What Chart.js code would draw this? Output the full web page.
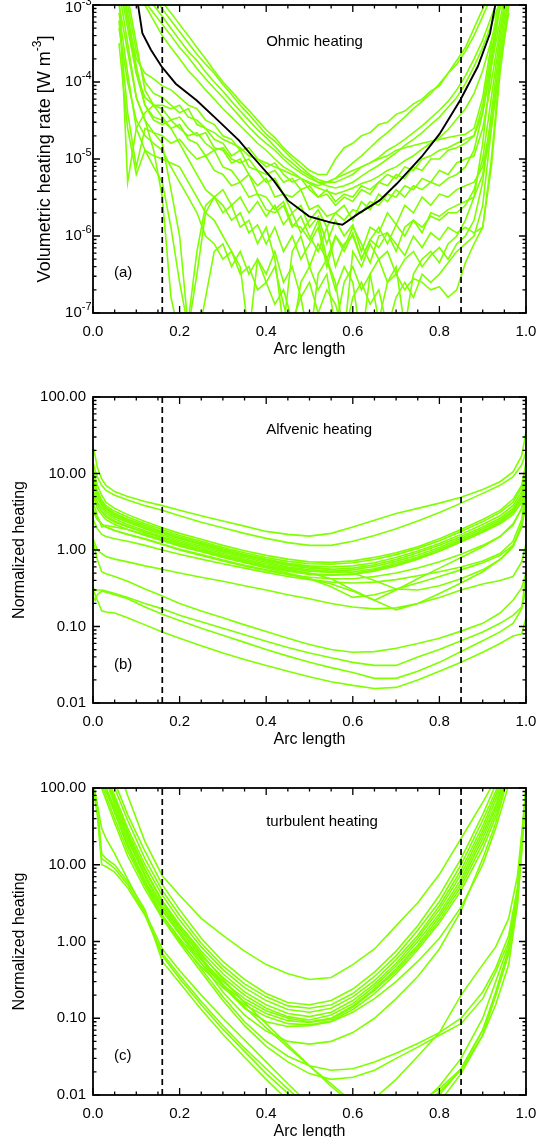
<!DOCTYPE html>
<html>
<head>
<meta charset="utf-8">
<script src="https://cdn.jsdelivr.net/npm/chart.js@4.4.1/dist/chart.umd.min.js"></script>
<style>
  html, body { margin: 0; padding: 0; background: #fff; overflow: hidden; }
  #wrap { position: relative; width: 551px; height: 1137px; }
  .pan { position: absolute; left: 0; width: 551px; }
</style>
</head>
<body>
<div id="wrap">
  <div class="pan" style="top:0"><canvas id="ohmic" width="551" height="365"></canvas></div>
  <div class="pan" style="top:365px"><canvas id="alfven" width="551" height="390"></canvas></div>
  <div class="pan" style="top:755px"><canvas id="turb" width="551" height="392"></canvas></div>
</div>
<script>
// ---- data ----
const cutLines = [0.16, 0.85];           // dashed vertical markers
const arcTicks = [0, 0.2, 0.4, 0.6, 0.8, 1.0];
const ohmicTicks = [1e-7, 1e-6, 1e-5, 1e-4, 1e-3];
const ohmicTickExp = ['-7', '-6', '-5', '-4', '-3'];
const normTicks = [0.01, 0.1, 1, 10, 100];
const normTickLabels = ['0.01', '0.10', '1.00', '10.00', '100.00'];

// (a) Ohmic heating, W m^-3
const arcA = [0.06,0.08,0.10,0.12,0.14,0.16,0.18,0.20,0.22,0.24,0.26,0.28,0.30,0.32,0.34,0.36,0.38,0.40,0.42,0.44,0.46,0.48,0.50,0.52,0.54,0.56,0.58,0.60,0.62,0.64,0.66,0.68,0.70,0.72,0.74,0.76,0.78,0.80,0.82,0.84,0.86,0.88,0.90,0.92,0.94,0.96];
const ohmicRuns = [
  [5e-3,4e-3,3.2e-3,2.2e-3,1.6e-3,1.1e-3,7.9e-4,5.6e-4,4e-4,2.8e-4,2e-4,1.4e-4,1e-4,7.6e-5,5.6e-5,4.3e-5,3.2e-5,2.4e-5,1.9e-5,1.4e-5,1.1e-5,8.9e-6,7.1e-6,6.3e-6,6.3e-6,1e-5,1.4e-5,1.6e-5,2e-5,2.2e-5,2.8e-5,3e-5,3.8e-5,4.2e-5,5.2e-5,6e-5,7.6e-5,8.9e-5,1.3e-4,1.7e-4,2.5e-4,4e-4,7.1e-4,1.3e-3,2e-3,3.2e-3],
  [4e-3,3.2e-3,2.5e-3,1.8e-3,1.3e-3,8.9e-4,6.3e-4,4.5e-4,3.2e-4,2.3e-4,1.7e-4,1.3e-4,9.3e-5,6.9e-5,5e-5,3.8e-5,2.8e-5,2.1e-5,1.7e-5,1.3e-5,1e-5,7.9e-6,6.3e-6,5.4e-6,5e-6,5e-6,5.6e-6,6.3e-6,7.9e-6,8.9e-6,1.05e-5,1.3e-5,1.5e-5,1.8e-5,2.2e-5,2.7e-5,3.4e-5,4.3e-5,5.6e-5,7.9e-5,1.2e-4,2e-4,3.5e-4,7.1e-4,1.4e-3,2.8e-3],
  [3.2e-3,2.5e-3,2e-3,1.4e-3,1e-3,7.1e-4,5e-4,3.5e-4,2.5e-4,1.9e-4,1.35e-4,1e-4,7.6e-5,5.6e-5,4.2e-5,3.2e-5,2.4e-5,1.9e-5,1.45e-5,1.1e-5,8.9e-6,7.1e-6,6e-6,5e-6,4.5e-6,4.2e-6,4.5e-6,5e-6,6e-6,7.1e-6,8.3e-6,1e-5,1.2e-5,1.5e-5,1.8e-5,2.2e-5,2.8e-5,3.5e-5,4.7e-5,6.3e-5,9.5e-5,1.6e-4,2.8e-4,5.6e-4,1.1e-3,2.2e-3],
  [2.5e-3,2e-3,1.6e-3,1.1e-3,7.9e-4,5.6e-4,4e-4,2.8e-4,2.1e-4,1.5e-4,1.1e-4,8.3e-5,6.3e-5,4.7e-5,3.5e-5,2.6e-5,2e-5,1.6e-5,1.3e-5,1e-5,7.9e-6,6.6e-6,5.6e-6,5e-6,5e-6,5.6e-6,7.1e-6,8.9e-6,1.1e-5,1.4e-5,1.8e-5,2.2e-5,2.8e-5,3.5e-5,4.5e-5,5.6e-5,7.1e-5,9.5e-5,1.3e-4,1.9e-4,2.8e-4,5e-4,8.9e-4,1.6e-3,2.5e-3,4e-3],
  [2e-3,1.6e-3,1.3e-3,1e-3,6.3e-4,4e-4,2.8e-4,2e-4,1.4e-4,1.07e-4,7.9e-5,6e-5,4.5e-5,3.5e-5,2.7e-5,2.1e-5,1.6e-5,1.3e-5,1e-5,7.9e-6,6.8e-6,5.6e-6,4.8e-6,4.2e-6,3.8e-6,3.5e-6,3.8e-6,4.2e-6,4.8e-6,5.2e-6,6e-6,7.1e-6,7.9e-6,9.5e-6,1.1e-5,1.35e-5,1.6e-5,1.9e-5,2.4e-5,3.3e-5,4.5e-5,7.1e-5,1.4e-4,3.5e-4,8.9e-4,2e-3],
  [2.5e-3,6.3e-4,2e-4,1.3e-4,1.1e-4,8.9e-5,7.9e-5,6.3e-5,5e-5,4.5e-5,3.2e-5,2.8e-5,2e-5,1.8e-5,1.3e-5,1.4e-5,1e-5,7.9e-6,8.9e-6,6.3e-6,5e-6,5.6e-6,4e-6,3.2e-6,3.5e-6,2.5e-6,3.2e-6,2.8e-6,4e-6,3.5e-6,5e-6,4.5e-6,6.3e-6,5.6e-6,7.9e-6,7.1e-6,1e-5,1e-5,1.3e-5,1.4e-5,1.6e-5,2e-5,5e-5,2.5e-4,1e-3,3.2e-3],
  [3.2e-3,1e-3,2.5e-4,1e-4,7.1e-5,6.3e-5,5e-5,4e-5,4.5e-5,2.8e-5,2.5e-5,1.8e-5,1.6e-5,1.1e-5,1.3e-5,7.9e-6,7.1e-6,5e-6,5.6e-6,3.5e-6,3.2e-6,4e-6,2.2e-6,2.5e-6,1.8e-6,2e-6,1.6e-6,2.2e-6,2e-6,2.8e-6,2.5e-6,3.5e-6,3.2e-6,4.5e-6,4e-6,5.6e-6,5e-6,7.1e-6,6.3e-6,8.9e-6,1e-5,1.1e-5,2.5e-5,1e-4,5e-4,2e-3],
  [4e-3,1.3e-3,3.2e-4,7.9e-5,5e-5,4.5e-5,3.2e-5,3.5e-5,2.5e-5,2e-5,2.2e-5,1.4e-5,1.3e-5,8.9e-6,1e-5,6.3e-6,4.5e-6,5.6e-6,3.2e-6,3.5e-6,2e-6,2.5e-6,1.3e-6,1.8e-6,7.9e-7,1.6e-6,1e-6,1.4e-6,6.3e-7,1.3e-6,1.1e-6,2e-6,1.4e-6,2.5e-6,2e-6,3.2e-6,2.5e-6,3.5e-6,3.2e-6,4e-6,4.5e-6,5e-6,7.9e-6,3.2e-5,2e-4,1e-3],
  [2.5e-3,7.9e-4,1.6e-4,5e-5,3.5e-5,3.2e-5,2.5e-5,2.8e-5,1.8e-5,1.6e-5,1.1e-5,1.3e-5,7.9e-6,7.1e-6,5e-6,6.3e-6,3.5e-6,3.2e-6,2.2e-6,2.8e-6,1.4e-6,1.3e-6,8.9e-7,1.6e-6,5e-7,1e-6,7.1e-7,1.3e-6,7.9e-7,4.5e-7,1e-6,1.1e-6,6.3e-7,1.3e-6,1.6e-6,1.1e-6,2e-6,1.8e-6,2.2e-6,2.5e-6,2.8e-6,3.2e-6,6.3e-6,2.5e-5,1.6e-4,7.9e-4],
  [6.3e-4,4e-5,7.9e-6,2.5e-5,2.2e-5,2e-5,1.6e-5,1.8e-5,1.3e-5,1e-5,1.1e-5,7.1e-6,6.3e-6,4.5e-6,5e-6,3.2e-6,3.5e-6,2.2e-6,2e-6,2.5e-6,1.3e-6,1.8e-6,1e-6,6.3e-7,1.3e-6,4e-7,7.9e-7,1e-6,5e-7,8.9e-7,7.1e-7,1.1e-6,7.9e-7,5.6e-7,1e-6,7.1e-7,1.1e-6,8.9e-7,1.3e-6,1.1e-6,1.3e-6,1.1e-6,1.3e-6,7.9e-6,1.3e-4,1e-3],
  [1.6e-3,3.2e-4,6.3e-5,3.2e-5,1.3e-5,3.2e-6,1.6e-7,5e-8,7.9e-8,6.3e-7,2.5e-6,3.2e-6,4e-6,2.5e-6,3.2e-6,2e-6,2.8e-6,1.8e-6,2.5e-6,1.4e-6,2e-6,1.1e-6,1.6e-6,2.2e-6,1.3e-6,2e-6,2.5e-6,1.6e-6,2.8e-6,2.2e-6,3.5e-6,2.8e-6,4e-6,3.2e-6,4.5e-6,4e-6,5e-6,4.5e-6,5.6e-6,6.3e-6,7.9e-6,1.3e-5,4e-5,2e-4,1e-3,3.2e-3],
  [1e-3,2.5e-4,6.3e-5,3.2e-5,2.2e-5,1.6e-5,4e-6,1e-6,6.3e-8,4e-8,1.6e-7,6.3e-7,7.9e-7,4e-7,6.3e-7,3.2e-7,5e-7,2.5e-7,4e-7,1.3e-7,5e-8,2.5e-7,4e-7,2e-7,3.2e-7,6.3e-8,2.5e-7,4e-7,2e-7,3.2e-7,7.9e-8,2.5e-7,3.2e-7,2e-7,2.8e-7,2.5e-7,2e-7,2.2e-7,1.6e-7,2e-7,4.5e-7,7.9e-7,1.3e-6,1e-5,1.6e-4,1e-3],
  [2e-3,5e-4,1.3e-4,6.3e-5,5e-5,3.5e-5,2.5e-5,1.6e-5,1e-5,6.3e-6,4e-6,3.2e-6,2e-6,2.5e-6,1.3e-6,1.6e-6,7.9e-7,1.3e-6,5e-7,6.3e-8,6.3e-7,1e-6,4e-7,7.9e-7,5e-7,2.5e-7,5e-8,6.3e-7,4e-7,7.9e-7,5e-7,6.3e-7,3.2e-7,5e-7,6.3e-7,4e-7,5.6e-7,7.1e-7,5e-7,7.9e-7,1e-6,1.6e-6,5e-6,4e-5,3.2e-4,1.6e-3],
  [3.2e-3,6.3e-4,1.3e-4,5e-5,3.2e-5,2.8e-5,3.2e-5,2.5e-5,2e-5,2.2e-5,1.6e-5,1.3e-5,1.4e-5,1e-5,8.9e-6,1e-5,7.1e-6,6.3e-6,7.1e-6,5e-6,5.6e-6,4e-6,4.5e-6,3.2e-6,4e-6,2.8e-6,3.5e-6,3.2e-6,4.5e-6,4e-6,5e-6,6.3e-6,5.6e-6,7.9e-6,7.1e-6,1e-5,1.1e-5,1.3e-5,1.4e-5,1.6e-5,1.8e-5,2e-5,4e-5,1.6e-4,6.3e-4,2.5e-3],
  [3.2e-4,2.5e-5,6.3e-6,1.3e-5,1.1e-5,1e-5,8.9e-6,7.9e-6,5e-6,3.2e-6,2e-6,1.6e-6,1e-6,6.3e-7,4e-7,5e-8,5e-7,3.2e-7,6.3e-7,2.5e-7,4e-7,1.6e-7,4e-8,3.2e-7,5e-7,2e-7,4e-7,2.5e-7,4e-8,3.2e-7,5e-7,2.5e-7,4e-7,6.3e-8,3.2e-7,5e-7,6.3e-7,4.5e-7,7.9e-7,1e-6,1.6e-6,3.2e-6,1.6e-5,1.6e-4,1e-3,3.2e-3],
  [7.9e-4,1.3e-4,2.5e-5,1.3e-5,7.9e-6,5e-6,1.3e-6,2.5e-7,6.3e-8,3.2e-7,2e-6,3.2e-6,2.5e-6,1.6e-6,2e-6,1.1e-6,1.4e-6,7.9e-7,1.3e-6,6.3e-7,1e-6,5e-7,7.9e-7,1.3e-6,4e-7,1e-6,6.3e-7,1.1e-6,5e-7,8.9e-7,1.3e-6,7.9e-7,1.4e-6,1e-6,1.6e-6,1.3e-6,1.8e-6,1.6e-6,2e-6,2e-6,2.5e-6,4e-6,1e-5,6.3e-5,4e-4,2e-3],
  [5e-4,1e-4,3.2e-5,2e-5,1.6e-5,1.3e-5,7.9e-6,5e-6,3.2e-6,2e-6,1e-6,7.9e-7,5e-7,6.3e-7,3.2e-7,4e-7,2e-7,2.5e-7,1.3e-7,2e-7,7.9e-8,1.6e-7,2.5e-7,1e-7,2e-7,1.3e-7,5e-8,1.6e-7,2.5e-7,1.3e-7,2e-7,6.3e-8,1.6e-7,2.5e-7,1.6e-7,3.2e-7,2.5e-7,3.2e-7,4.5e-7,6.3e-7,7.9e-7,1e-6,2.5e-6,2.5e-5,2.5e-4,1.3e-3],
  [1.6e-3,5e-6,2.5e-5,4e-5,5e-5,5e-5,4.5e-5,5e-5,3.5e-5,3.2e-5,2.5e-5,2.2e-5,1.8e-5,1.6e-5,1.4e-5,1.1e-5,1e-5,8.9e-6,7.9e-6,7.1e-6,6.3e-6,5.6e-6,5e-6,4.5e-6,5e-6,5.6e-6,6.3e-6,7.1e-6,7.9e-6,8.9e-6,1e-5,1.1e-5,1.3e-5,1.4e-5,1.5e-5,1.6e-5,1.7e-5,1.8e-5,1.9e-5,2e-5,2.1e-5,2.5e-5,6.3e-5,3.2e-4,1.3e-3,3.2e-3]
];
// mean profile (black)
const ohmicMeanArc = [0.100,0.104,0.114,0.134,0.158,0.191,0.239,0.288,0.337,0.369,0.418,0.450,0.499,0.548,0.576,0.613,0.662,0.702,0.759,0.800,0.848,0.889,0.917,0.929,0.940];
const ohmicMean = [2e-3,1e-3,4.3e-4,2.6e-4,1.6e-4,9.5e-5,5.8e-5,3.2e-5,1.75e-5,1.07e-5,5.2e-6,2.9e-6,1.8e-6,1.5e-6,1.4e-6,1.95e-6,2.9e-6,4.8e-6,1.07e-5,2.1e-5,5.8e-5,1.6e-4,4.3e-4,1e-3,2e-3];

// (b) Alfvenic heating, normalized
const arcB = [0,0.005,0.01,0.02,0.03,0.05,0.08,0.12,0.16,0.2,0.25,0.3,0.35,0.4,0.45,0.5,0.55,0.6,0.65,0.7,0.75,0.8,0.85,0.9,0.94,0.97,0.99,1.0];
const alfvenRuns = [
  [22,17,12,8.5,7,5.8,5.0,4.3,3.8,3.3,2.8,2.4,2.05,1.75,1.6,1.52,1.65,2.0,2.45,3.0,3.5,4.1,4.9,6.2,7.8,10.5,17,35],
  [14,11,9,7,6,5.2,4.5,3.8,3.3,2.8,2.3,1.95,1.65,1.42,1.25,1.15,1.15,1.3,1.55,1.9,2.4,3.1,4.1,5.5,7.0,9.0,13,19],
  [12,9,7,5.2,4.2,3.5,2.9,2.35,1.95,1.65,1.38,1.15,0.98,0.85,0.76,0.7,0.69,0.72,0.8,0.92,1.1,1.4,1.85,2.5,3.3,4.6,7,14],
  [10,8,6,4.5,3.8,3.2,2.7,2.2,1.85,1.55,1.3,1.08,0.92,0.8,0.71,0.66,0.65,0.68,0.75,0.87,1.05,1.32,1.75,2.35,3.1,4.2,6.5,12],
  [9,7,5.5,4.2,3.6,3.0,2.55,2.1,1.75,1.48,1.24,1.04,0.88,0.76,0.67,0.62,0.6,0.62,0.68,0.8,0.97,1.22,1.6,2.15,2.8,3.8,5.8,10],
  [8,6.5,5,4.0,3.4,2.85,2.4,1.98,1.66,1.4,1.17,0.98,0.83,0.72,0.63,0.58,0.56,0.58,0.64,0.75,0.92,1.15,1.5,2.0,2.6,3.5,5.2,9],
  [7,6,4.8,3.8,3.2,2.7,2.3,1.9,1.58,1.33,1.12,0.94,0.8,0.69,0.6,0.55,0.53,0.55,0.61,0.71,0.86,1.08,1.42,1.9,2.45,3.3,5,8],
  [6,5,4.2,3.5,3.0,2.55,2.15,1.78,1.5,1.27,1.07,0.9,0.76,0.66,0.58,0.53,0.51,0.52,0.57,0.67,0.81,1.02,1.35,1.8,2.3,3.1,4.6,7],
  [5,4.5,3.8,3.2,2.8,2.4,2.05,1.7,1.43,1.2,1.01,0.85,0.72,0.62,0.54,0.49,0.47,0.48,0.53,0.62,0.76,0.96,1.27,1.7,2.2,2.9,4.2,6],
  [4,3.5,2.8,2.0,2.1,2.0,1.85,1.6,1.36,1.15,0.97,0.82,0.7,0.6,0.53,0.48,0.47,0.49,0.55,0.64,0.78,0.98,1.3,1.75,2.3,3.2,5,9],
  [6,5,4,3.2,2.7,2.3,2.0,1.7,1.45,1.22,1.02,0.86,0.73,0.63,0.56,0.5,0.42,0.3,0.22,0.3,0.42,0.58,0.8,1.1,1.5,2.2,3.5,6],
  [3,2.8,2.5,2.2,2.0,1.8,1.6,1.4,1.2,1.02,0.87,0.74,0.63,0.55,0.48,0.42,0.36,0.29,0.22,0.165,0.2,0.27,0.37,0.52,0.75,1.1,2,4.5],
  [9,7,5.5,4.2,3.5,2.9,2.45,2.0,1.68,1.42,1.2,1.0,0.85,0.74,0.65,0.6,0.56,0.5,0.4,0.31,0.3,0.34,0.42,0.55,0.75,1.1,2.2,5],
  [2.5,2.2,1.9,1.6,1.5,1.4,1.3,1.15,1.0,0.88,0.76,0.66,0.58,0.51,0.45,0.41,0.38,0.37,0.38,0.41,0.46,0.52,0.6,0.72,0.9,1.3,2.5,6],
  [1.4,1.2,1.0,0.9,0.82,0.76,0.7,0.62,0.56,0.5,0.44,0.39,0.34,0.3,0.26,0.23,0.2,0.18,0.17,0.175,0.2,0.24,0.3,0.36,0.4,0.45,0.7,1.2],
  [5,4.2,3.5,2.9,2.5,2.15,1.85,1.55,1.32,1.12,0.95,0.8,0.68,0.58,0.5,0.42,0.33,0.24,0.26,0.31,0.37,0.45,0.55,0.68,0.85,1.15,2,4],
  [3.5,3.0,2.6,2.2,2.0,1.8,1.6,1.38,1.18,1.0,0.85,0.72,0.62,0.54,0.48,0.44,0.42,0.42,0.45,0.5,0.58,0.7,0.88,1.15,1.5,2.1,3.5,7],
  [1.3,1.0,0.75,0.52,0.49,0.45,0.39,0.31,0.25,0.2,0.16,0.13,0.105,0.086,0.07,0.058,0.05,0.046,0.047,0.052,0.06,0.07,0.087,0.11,0.15,0.22,0.32,0.5],
  [0.32,0.3,0.3,0.3,0.29,0.27,0.24,0.2,0.17,0.14,0.115,0.095,0.078,0.064,0.053,0.045,0.039,0.034,0.031,0.031,0.04,0.05,0.065,0.085,0.11,0.14,0.18,0.3],
  [0.25,0.22,0.26,0.29,0.28,0.26,0.23,0.18,0.145,0.12,0.095,0.077,0.062,0.05,0.041,0.034,0.029,0.025,0.021,0.021,0.026,0.034,0.047,0.065,0.085,0.11,0.17,0.5],
  [0.3,0.26,0.22,0.16,0.155,0.15,0.13,0.105,0.085,0.07,0.056,0.045,0.037,0.031,0.026,0.022,0.019,0.017,0.0155,0.016,0.02,0.026,0.034,0.046,0.06,0.075,0.08,0.13]
];

// (c) turbulent heating, normalized
const arcC = [0,0.01,0.02,0.03,0.05,0.08,0.12,0.16,0.2,0.25,0.3,0.35,0.4,0.45,0.5,0.55,0.6,0.65,0.7,0.75,0.8,0.85,0.9,0.93,0.96,0.98,0.99,1.0];
const turbRuns = [
  [300,300,300,300,250,80,20,7.2,4.0,2.0,1.2,0.75,0.5,0.38,0.32,0.34,0.5,0.8,1.6,3.2,7.5,22,65,130,300,300,300,300],
  [300,300,300,250,120,45,15,5.5,2.6,1.1,0.55,0.32,0.21,0.16,0.15,0.17,0.24,0.4,0.75,1.6,4.0,12,45,110,300,300,300,300],
  [300,300,300,200,100,38,12,4.6,2.2,0.95,0.48,0.28,0.19,0.145,0.135,0.15,0.21,0.35,0.65,1.4,3.3,10,38,90,300,300,300,300],
  [300,300,250,150,80,30,10,4.0,1.9,0.85,0.43,0.25,0.17,0.13,0.12,0.135,0.19,0.31,0.58,1.2,2.9,8.5,32,80,250,300,300,300],
  [300,300,200,120,65,25,8.5,3.4,1.65,0.75,0.38,0.22,0.15,0.115,0.105,0.12,0.17,0.28,0.52,1.1,2.6,7.5,28,70,220,300,300,300],
  [300,250,150,100,55,21,7.2,2.9,1.45,0.66,0.34,0.2,0.135,0.105,0.095,0.11,0.155,0.26,0.48,1.0,2.3,6.5,25,60,200,300,300,300],
  [250,200,120,90,48,18,6.2,2.5,1.25,0.58,0.3,0.18,0.125,0.1,0.09,0.1,0.145,0.24,0.44,0.9,2.1,5.8,22,55,180,300,300,300],
  [200,150,110,80,40,15,5.4,2.2,1.1,0.52,0.27,0.165,0.115,0.093,0.088,0.097,0.14,0.23,0.41,0.84,1.9,5.2,19,48,160,300,300,300],
  [150,120,100,70,35,13,4.8,2.0,1.0,0.47,0.25,0.15,0.105,0.085,0.082,0.092,0.13,0.21,0.38,0.78,1.75,4.6,16,42,140,300,300,300],
  [300,300,250,150,70,26,8.5,3.2,1.5,0.62,0.28,0.14,0.075,0.042,0.024,0.013,0.0075,0.009,0.016,0.032,0.065,0.2,0.5,0.85,2.0,7,25,100],
  [120,60,30,22,14,6.5,2.4,0.8,0.42,0.2,0.1,0.052,0.027,0.014,0.0075,0.004,0.003,0.003,0.004,0.007,0.013,0.03,0.1,0.3,0.9,4,20,100],
  [100,45,10,9.5,8,5,2.2,0.65,0.33,0.15,0.072,0.037,0.019,0.0105,0.0058,0.0032,0.002,0.002,0.0025,0.004,0.008,0.019,0.06,0.2,0.7,3,15,80],
  [110,50,12,11,9,5.5,2.3,0.7,0.36,0.165,0.08,0.041,0.022,0.012,0.0066,0.0037,0.0025,0.0025,0.003,0.005,0.01,0.022,0.07,0.22,0.8,4,20,100],
  [120,60,14,12,10,6,2.6,0.55,0.29,0.13,0.062,0.031,0.016,0.0085,0.0045,0.003,0.003,0.003,0.004,0.006,0.011,0.021,0.06,0.15,0.5,3,15,90],
  [300,250,150,100,50,19,6,2.2,1.05,0.44,0.19,0.09,0.05,0.032,0.024,0.021,0.022,0.027,0.035,0.047,0.065,0.1,0.22,0.45,1.2,5,20,100],
  [300,250,150,100,48,17,5.5,2.0,0.95,0.4,0.17,0.08,0.043,0.027,0.019,0.016,0.017,0.021,0.03,0.042,0.06,0.085,0.18,0.4,1.0,4,18,100],
  [300,300,200,130,60,22,7,2.6,1.25,0.52,0.22,0.11,0.068,0.05,0.046,0.05,0.065,0.1,0.18,0.35,0.8,2.5,12,35,150,300,300,300],
  [300,300,220,140,65,24,7.5,2.8,1.35,0.58,0.26,0.135,0.09,0.078,0.08,0.09,0.12,0.18,0.3,0.55,1.1,2.8,10,30,110,300,300,300],
  [300,300,250,150,75,27,8.8,3.3,1.6,0.7,0.32,0.16,0.085,0.045,0.024,0.014,0.008,0.006,0.006,0.008,0.012,0.022,0.07,0.2,0.7,4,20,100]
];

// ---- styling ----
const GREEN = '#7fff00';
const FAMILY = '"Liberation Sans", Arial, Helvetica, sans-serif';
const TICK_FONT = {family: FAMILY, size: 15};
const TITLE_FONT = {family: FAMILY, size: 16};

function runSets(arc, runs) {
  return runs.map(r => ({
    data: arc.map((x, i) => ({x: x, y: r[i]})),
    borderColor: GREEN, borderWidth: 1.6, pointRadius: 0, order: 2
  }));
}

function cutSets(lo, hi) {
  return cutLines.map(c => ({
    data: [{x: c, y: lo}, {x: c, y: hi}],
    borderColor: '#000', borderWidth: 1.7, borderDash: [6, 4], pointRadius: 0, order: 0
  }));
}

// box with inward ticks on all four sides, panel name and tag, as in the IDL plot
const frameTicks = {
  id: 'frameTicks',
  afterDatasetsDraw(chart, args, o) {
    const {ctx, chartArea: a} = chart;
    const xs = chart.scales.x, ys = chart.scales.y;
    ctx.save();
    ctx.strokeStyle = '#000';
    ctx.lineWidth = 1.3;
    ctx.beginPath();
    for (let i = 0; i <= 20; i++) {
      const px = xs.getPixelForValue(i * 0.05);
      const len = i % 4 === 0 ? 7 : 3.5;
      ctx.moveTo(px, a.bottom); ctx.lineTo(px, a.bottom - len);
      ctx.moveTo(px, a.top); ctx.lineTo(px, a.top + len);
    }
    for (let e = o.eMin; e <= o.eMax; e++) {
      for (let k = 1; k <= 9; k++) {
        if (e === o.eMax && k > 1) break;
        const py = ys.getPixelForValue(k * Math.pow(10, e));
        const len = k === 1 ? 7 : 3.5;
        ctx.moveTo(a.left, py); ctx.lineTo(a.left + len, py);
        ctx.moveTo(a.right, py); ctx.lineTo(a.right - len, py);
      }
    }
    ctx.stroke();
    ctx.lineWidth = 1.8;
    ctx.strokeRect(a.left, a.top, a.right - a.left, a.bottom - a.top);

    ctx.fillStyle = '#000';
    ctx.textBaseline = 'middle';
    ctx.textAlign = 'left';
    ctx.font = '15px ' + FAMILY;
    ctx.fillText(o.name, a.left + 0.4 * (a.right - a.left), a.top + o.nameDy);
    ctx.fillText(o.tag, 114, a.top + 268);

    if (o.powerLabels) {
      // 10^n tick labels and the y title with a superscript
      ohmicTicks.forEach((v, i) => {
        const py = Math.max(ys.getPixelForValue(v), 8);
        ctx.textAlign = 'right';
        ctx.font = '11px ' + FAMILY;
        const sup = ohmicTickExp[i];
        ctx.fillText(sup, a.left - 1.5, py - 6);
        const w = ctx.measureText(sup).width;
        ctx.font = '15px ' + FAMILY;
        ctx.fillText('10', a.left - 1.5 - w, py);
      });
      ctx.translate(45, (a.top + a.bottom) / 2);
      ctx.rotate(-Math.PI / 2);
      const t1 = 'Volumetric heating rate [W m', t2 = '-3', t3 = ']';
      ctx.font = '18px ' + FAMILY;
      const w1 = ctx.measureText(t1).width, w3 = ctx.measureText(t3).width;
      ctx.font = '12px ' + FAMILY;
      const w2 = ctx.measureText(t2).width;
      const x0 = -(w1 + w2 + w3) / 2;
      ctx.textAlign = 'left';
      ctx.font = '18px ' + FAMILY;
      ctx.fillText(t1, x0, 0);
      ctx.font = '12px ' + FAMILY;
      ctx.fillText(t2, x0 + w1, -7);
      ctx.font = '18px ' + FAMILY;
      ctx.fillText(t3, x0 + w1 + w2, 0);
    }
    ctx.restore();
  }
};

function panel(id, p) {
  new Chart(document.getElementById(id), {
    type: 'line',
    data: {datasets: p.datasets},
    plugins: [frameTicks],
    options: {
      responsive: false,
      animation: false,
      events: [],
      layout: {padding: {top: p.top, right: 25, left: 0, bottom: 0}},
      plugins: {
        legend: {display: false},
        tooltip: {enabled: false},
        frameTicks: p.frame
      },
      scales: {
        x: {
          type: 'linear', min: 0, max: 1,
          afterFit: s => { s.height = 52; },
          grid: {display: false, drawTicks: false},
          border: {display: false},
          afterBuildTicks: s => { s.ticks = arcTicks.map(v => ({value: v})); },
          ticks: {padding: 10, color: '#000', font: TICK_FONT, maxRotation: 0, autoSkip: false,
                  callback: v => v.toFixed(1)},
          title: {display: true, text: 'Arc length', color: '#000', font: TITLE_FONT,
                  padding: {top: 0, bottom: 6}}
        },
        y: {
          type: 'logarithmic', min: p.min, max: p.max,
          afterFit: s => { s.width = 93; },
          grid: {display: false, drawTicks: false},
          border: {display: false},
          ticks: p.yTicks,
          title: p.yTitle
        }
      }
    }
  });
}

const normYTicks = {
  display: true, padding: 7, color: '#000', font: TICK_FONT, autoSkip: false,
  callback: v => {
    const i = normTicks.findIndex(t => Math.abs(t - v) / t < 1e-6);
    return i >= 0 ? normTickLabels[i] : '';
  }
};
const normYTitle = {display: true, text: 'Normalized heating', color: '#000', font: TITLE_FONT,
                    padding: {top: 10, bottom: 0}};

panel('ohmic', {
  top: 5, min: 1e-7, max: 1e-3,
  datasets: [
    {data: ohmicMeanArc.map((x, i) => ({x: x, y: ohmicMean[i]})),
     borderColor: '#000', borderWidth: 1.9, pointRadius: 0, order: 0},
    ...cutSets(1e-7, 1e-3),
    ...runSets(arcA, ohmicRuns)
  ],
  yTicks: {display: false},
  yTitle: {display: false},
  frame: {eMin: -7, eMax: -3, name: 'Ohmic heating', nameDy: 37, tag: '(a)', powerLabels: true}
});

panel('alfven', {
  top: 32, min: 0.01, max: 100,
  datasets: [...cutSets(0.01, 100), ...runSets(arcB, alfvenRuns)],
  yTicks: normYTicks,
  yTitle: normYTitle,
  frame: {eMin: -2, eMax: 2, name: 'Alfvenic heating', nameDy: 33, tag: '(b)', powerLabels: false}
});

panel('turb', {
  top: 33, min: 0.01, max: 100,
  datasets: [...cutSets(0.01, 100), ...runSets(arcC, turbRuns)],
  yTicks: normYTicks,
  yTitle: normYTitle,
  frame: {eMin: -2, eMax: 2, name: 'turbulent heating', nameDy: 34, tag: '(c)', powerLabels: false}
});
</script>
</body>
</html>
